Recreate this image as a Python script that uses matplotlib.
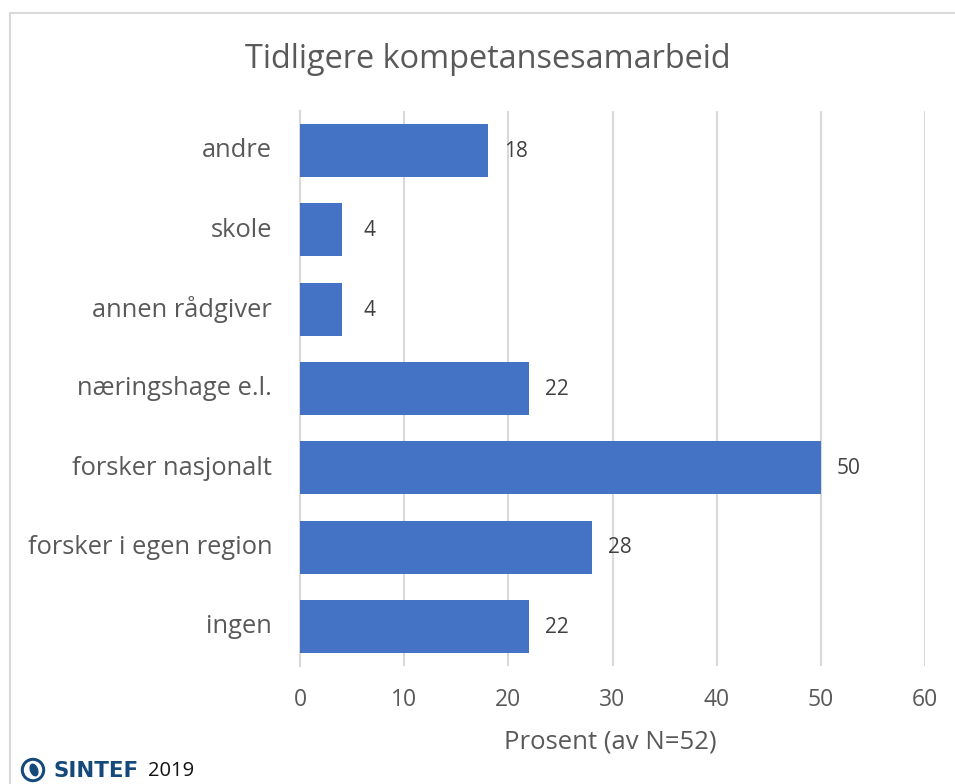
import matplotlib
matplotlib.use("Agg")
import matplotlib.pyplot as plt
from matplotlib.patches import Circle, Ellipse
from matplotlib.transforms import IdentityTransform, ScaledTranslation

categories = ["ingen", "forsker i egen region", "forsker nasjonalt", "næringshage e.l.",
              "annen rådgiver", "skole", "andre"]
values = [22, 28, 50, 22, 4, 4, 18]
xticks = [0, 10, 20, 30, 40, 50, 60]

W, H = 955, 784
plt.rcParams["font.family"] = ["Open Sans", "DejaVu Sans"]
grey = "#595959"
navy = "#14497A"

fig = plt.figure(figsize=(W / 100, H / 100), dpi=100)
fig.patch.set_facecolor("white")
# axes box in pixels: x 300-925, y 111-666
ax = fig.add_axes([300 / W, 1 - 666 / H, 625 / W, 555 / H])

ax.barh(range(len(values)), values, height=0.67, color="#4472C4", zorder=3)
for i, v in enumerate(values):
    ax.text(v + 2.7, i - 0.01, str(v), va="center", ha="center", fontsize=15, color="#404040")

ax.set_xlim(0, 60)
ax.set_ylim(-0.5, 6.5)
ax.set_xticks(xticks)
ax.set_yticks(range(len(categories)))
ax.set_yticklabels(categories, fontsize=18.4, color=grey)
ax.tick_params(axis="y", length=0, pad=20)
ax.tick_params(axis="x", length=0, pad=16, labelsize=16.5, labelcolor=grey)
# category labels sit a little higher than the bar centres
up = ScaledTranslation(0, 2 / 72, fig.dpi_scale_trans)
for lab in ax.get_yticklabels():
    lab.set_transform(lab.get_transform() + up)
ax.grid(axis="x", color="#D9D9D9", linewidth=1.5, zorder=0)
for s in ["top", "right", "bottom"]:
    ax.spines[s].set_visible(False)
ax.spines["left"].set_color("#D9D9D9")
ax.spines["left"].set_linewidth(1.5)
ax.set_axisbelow(True)

fig.text(488 / W, 1 - 60 / H, "Tidligere kompetansesamarbeid", ha="center", va="center",
         fontsize=23.4, color=grey)
fig.text(610 / W, 1 - 742 / H, "Prosent (av N=52)", ha="center", va="center",
         fontsize=18.5, color=grey)

# outer chart frame
fig.add_artist(plt.Line2D([10 / W, 955 / W], [1 - 13 / H, 1 - 13 / H], color="#D9D9D9", lw=1.5))
fig.add_artist(plt.Line2D([10 / W, 10 / W], [1 - 13 / H, 0], color="#D9D9D9", lw=1.5))

# logo
px = IdentityTransform()
fig.add_artist(Circle((33, H - 770), 11.5, color=navy, transform=px))
fig.add_artist(Circle((33, H - 770), 8.5, color="white", transform=px))
fig.add_artist(Ellipse((34, H - 770), 7, 12, angle=20, color=navy, transform=px))
fig.text(53 / W, 1 - 771 / H, "SINTEF", ha="left", va="center", fontsize=15.4,
         fontweight="bold", color=navy, family="DejaVu Sans")
fig.text(148 / W, 1 - 771 / H, "2019", ha="left", va="center", fontsize=14.5, color="#111111")

fig.savefig("out.png", dpi=100)
